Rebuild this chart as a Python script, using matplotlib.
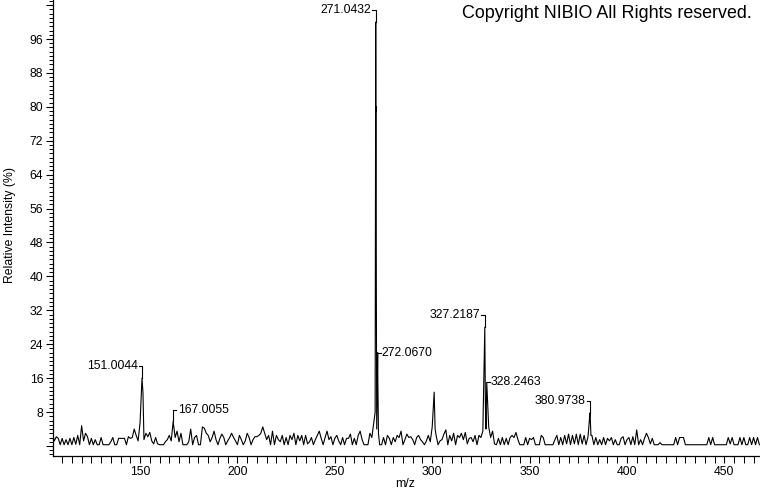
import numpy as np
import matplotlib
matplotlib.use("Agg")
import matplotlib.pyplot as plt
from matplotlib.ticker import MultipleLocator, FuncFormatter

plt.rcParams["font.family"] = ["Liberation Sans", "DejaVu Sans"]

# ---- data: baseline profile, one point per m/z unit (105 .. 468) ----
MZ_START = 105
base_int = [
    2.6, 1.2, 2.2, 1.8, 0.3, 1.8, 0.3, 1.5, 0.3, 1.8, 0.3, 2.0, 0.4, 2.5, 0.3,      # 105-119
    4.8, 1.2, 3.0, 2.2, 0.3, 1.8, 0.3, 1.5, 0.3, 0.3,                             # 120-129
    2.0, 0.3, 0.3, 0.3, 0.3, 1.0, 2.0, 0.3, 0.3, 1.8,                             # 130-139
    1.8, 1.8, 1.8, 0.3, 2.2, 1.8, 2.0, 4.0, 2.5, 1.2,                             # 140-149
    5.5, 16.0, 1.5, 3.0, 2.2, 3.2, 1.2, 0.5, 2.0, 0.5,                            # 150-159
    0.3, 0.3, 0.3, 1.0, 1.5, 2.5, 1.2, 5.8, 2.0, 3.5,                             # 160-169
    1.0, 3.0, 0.3, 0.3, 0.3, 1.0, 4.0, 0.3, 2.0, 2.5,                             # 170-179
    0.3, 0.3, 4.5, 4.2, 3.0, 2.5, 1.0, 2.0, 3.5, 1.5,                             # 180-189
    0.3, 1.8, 2.8, 2.0, 0.3, 1.2, 2.0, 3.0, 2.0, 1.2,                             # 190-199
    0.3, 2.5, 1.5, 0.3, 1.2, 3.0, 2.0, 0.3, 1.5, 2.2,                             # 200-209
    2.2, 2.5, 3.0, 4.5, 3.0, 1.5, 2.5, 0.3, 3.5, 0.3,                             # 210-219
    2.5, 1.5, 1.0, 2.5, 0.3, 2.0, 0.3, 2.5, 1.5, 3.0,                             # 220-229
    0.3, 2.5, 1.2, 2.5, 0.3, 2.5, 0.5, 1.0, 2.0, 0.3,                             # 230-239
    1.5, 2.5, 3.5, 1.8, 0.3, 2.0, 3.5, 1.5, 2.2, 0.3,                             # 240-249
    1.8, 2.5, 1.2, 0.3, 2.0, 0.3, 1.8, 1.8, 2.8, 0.3,                             # 250-259
    1.8, 0.3, 2.5, 3.5, 1.5, 0.3, 0.3, 0.3, 3.0, 2.0,                             # 260-269
    5.5, 100.0, 22.0, 0.3, 0.3, 2.0, 0.3, 2.5, 1.8, 0.3,                          # 270-279
    2.0, 1.0, 2.5, 2.0, 3.5, 0.3, 1.5, 2.8, 2.0, 2.2,                             # 280-289
    1.5, 0.3, 2.0, 2.5, 1.5, 1.0, 0.3, 1.2, 2.5, 1.0,                             # 290-299
    4.5, 12.7, 2.5, 0.3, 1.2, 1.5, 2.8, 3.8, 0.3, 2.5,                            # 300-309
    1.2, 3.0, 0.3, 2.5, 2.0, 3.0, 1.5, 3.2, 0.5, 1.8,                             # 310-319
    2.0, 1.0, 2.5, 0.3, 2.5, 2.0, 3.5, 28.0, 15.0, 4.5,                           # 320-329
    2.0, 3.5, 0.5, 0.3, 1.8, 0.3, 2.0, 0.3, 1.8, 0.3,                             # 330-339
    2.0, 2.5, 2.0, 3.2, 1.5, 0.3, 0.3, 0.3, 2.0, 0.3,                             # 340-349
    1.8, 1.5, 2.0, 0.3, 0.3, 0.3, 2.5, 2.0, 0.3, 0.3,                             # 350-359
    0.3, 0.3, 0.3, 1.5, 2.5, 0.3, 2.0, 0.3, 2.5, 0.5,                             # 360-369
    2.8, 0.3, 2.5, 0.5, 2.8, 0.3, 2.8, 0.5, 2.5, 0.3,                             # 370-379
    2.2, 7.8, 2.5, 0.3, 2.0, 0.3, 1.5, 0.3, 2.0, 0.3,                             # 380-389
    1.8, 1.2, 2.0, 0.3, 1.5, 0.3, 0.3, 1.8, 2.2, 0.3,                             # 390-399
    1.5, 2.0, 0.3, 2.2, 0.3, 3.8, 0.3, 1.5, 0.3, 1.8,                             # 400-409
    3.0, 2.0, 0.5, 1.8, 0.3, 0.3, 0.3, 0.8, 0.3, 0.3,                             # 410-419
    0.3, 0.3, 0.3, 0.3, 0.3, 2.0, 0.3, 2.0, 2.0, 2.0,                             # 420-429
    0.3, 0.3, 0.3, 0.3, 0.3, 0.3, 0.3, 0.3, 0.3, 0.3,                             # 430-439
    0.3, 0.3, 2.0, 0.3, 2.0, 0.3, 0.3, 0.3, 0.3, 0.3,                             # 440-449
    0.3, 0.3, 2.0, 0.5, 2.0, 0.3, 0.3, 0.3, 2.0, 0.3,                             # 450-459
    2.0, 0.3, 0.3, 2.0, 0.3, 2.0, 0.3, 2.0, 0.3,                                  # 460-468
]

# extra profile points on the flanks of the main peaks
extra_mz = [151.5, 270.7, 271.05, 271.1, 271.2, 271.3, 271.5, 272.1, 272.4,
            301.2, 301.5, 327.1, 327.3, 327.6, 381.2, 381.5]
extra_int = [12.5, 8.0, 80.0, 79.0, 80.0, 40.0, 4.0, 15.0, 3.0,
             9.0, 4.0, 21.0, 10.0, 4.0, 6.0, 2.5]

# labelled peaks: (m/z text, peak position, intensity, label style)
label_text = ["271.0432", "151.0044", "167.0055", "272.0670",
              "327.2187", "328.2463", "380.9738"]
label_mz = [271, 151, 167, 272, 327, 328, 381]
label_int = [100.0, 16.0, 5.8, 22.0, 28.0, 15.0, 7.8]
label_style = ["left", "left", "right", "side", "left", "side", "left"]

mz = np.concatenate([MZ_START + np.arange(len(base_int)), extra_mz])
inten = np.concatenate([base_int, extra_int])
order = np.argsort(mz)
mz, inten = mz[order], inten[order]

fig = plt.figure(figsize=(7.6, 4.92), dpi=100)
ax = fig.add_axes([53 / 760, 1 - 456 / 492, 1 - 53 / 760, 456 / 492])

ax.plot(mz, inten, color="black", lw=0.8)

ax.set_xlim(105.3, 468.3)
ax.set_ylim(-2.36, 105.2)

for s in ("top", "right"):
    ax.spines[s].set_visible(False)
for s in ("left", "bottom"):
    ax.spines[s].set_linewidth(0.9)

ax.xaxis.set_major_locator(MultipleLocator(50))
ax.xaxis.set_minor_locator(MultipleLocator(5))
ax.yaxis.set_major_locator(MultipleLocator(8))
ax.yaxis.set_minor_locator(MultipleLocator(1))
ax.yaxis.set_major_formatter(
    FuncFormatter(lambda v, p: "" if v <= 0 or v > 100 else f"{v:.0f}"))
ax.tick_params(which="major", length=5, width=0.8, labelsize=8.8, pad=2)
ax.tick_params(which="minor", length=3, width=0.7)
ax.tick_params(axis="x", which="both", length=5)

fig.text(405 / 760, 1 - 484 / 492, "m/z", ha="center", va="center", fontsize=8.8)
fig.text(10 / 760, 1 - 225 / 492, "Relative Intensity (%)", ha="center",
         va="center", rotation=90, fontsize=8.8)

# peak labels with small brackets
dy = 2.8   # bracket height (intensity units)
dx = 1.7   # bracket width (m/z units)
for txt, m, v, style in zip(label_text, label_mz, label_int, label_style):
    if style == "left":
        ax.plot([m - dx, m, m], [v + dy, v + dy, v], color="black", lw=0.8)
        ax.text(m - dx - 0.4, v + dy, txt, ha="right", va="center", fontsize=8.8)
    elif style == "right":
        ax.plot([m + dx, m, m], [v + dy, v + dy, v], color="black", lw=0.8)
        ax.text(m + dx + 0.6, v + dy, txt, ha="left", va="center", fontsize=8.8)
    else:
        ax.plot([m + 0.3, m + 1.8], [v, v], color="black", lw=0.8)
        ax.text(m + 2.0, v, txt, ha="left", va="center", fontsize=8.8)

fig.text(752 / 760, 1 - 14 / 492, "Copyright NIBIO All Rights reserved.",
         ha="right", va="center", fontsize=12.9)

fig.savefig("out.png", dpi=100)
